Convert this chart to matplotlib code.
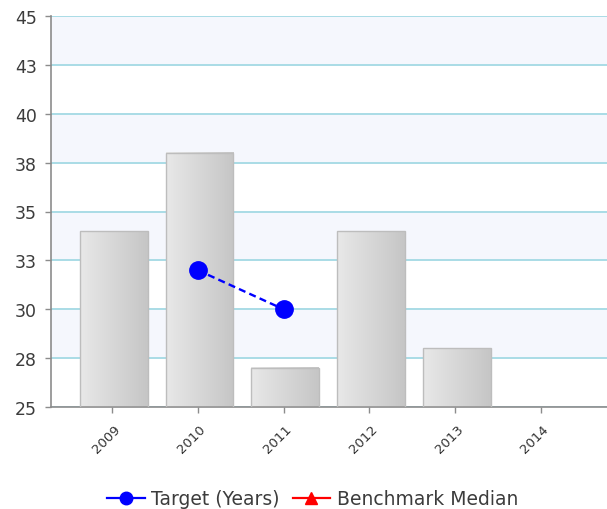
import numpy as np
import matplotlib
matplotlib.use("Agg")
import matplotlib.pyplot as plt
from matplotlib.lines import Line2D
from matplotlib.colors import LinearSegmentedColormap
import matplotlib.transforms as mtransforms

years = ["2009", "2010", "2011", "2012", "2013", "2014"]
bar_values = [34.0, 38.0, 27.0, 34.0, 28.0, np.nan]
target_values = [np.nan, 32.0, 30.0, np.nan, np.nan, np.nan]
benchmark_values = [np.nan, np.nan, np.nan, np.nan, np.nan, np.nan]
ytick_values = [25, 27.5, 30, 32.5, 35, 37.5, 40, 42.5, 45]
ytick_labels = ["25", "28", "30", "33", "35", "38", "40", "43", "45"]

plt.rcParams['font.family'] = ['DejaVu Sans']

fig = plt.figure(figsize=(6.07, 5.10), dpi=100)
ax = fig.add_axes([51/607, 102/510, 1 - 51/607, (408-17)/510])

ymin, ymax = 25, 45
x = np.arange(len(years))
xlim = (-0.71, 5.77)

# alternating bands
for i in range(len(ytick_values) - 1):
    lo, hi = ytick_values[i], ytick_values[i + 1]
    if i % 2 == 1:
        ax.axhspan(lo, hi, color="#F5F7FD", zorder=0, lw=0)

for yv in ytick_values:
    ax.axhline(yv, color="#A9DCE6", lw=1.4, zorder=1)

# gradient bars
width = 0.79
grad = np.linspace(0, 1, 64).reshape(1, -1)
cmap = LinearSegmentedColormap.from_list("g", ["#E8E8E8", "#C6C6C6"])
for xi, v in zip(x, bar_values):
    if np.isnan(v):
        continue
    ax.imshow(grad, extent=[xi - width/2 + 0.02, xi + width/2 + 0.02, ymin, v], aspect="auto",
              cmap=cmap, zorder=2, interpolation="bilinear")
    ax.bar(xi + 0.02, v - ymin, bottom=ymin, width=width, facecolor="none",
           edgecolor="#BDBDBD", lw=1.0, zorder=3)
ax.set_xlim(*xlim)
ax.set_ylim(ymin, ymax)

ax.plot(x, target_values, color="#0000FF", ls=(0, (3, 1.8)), lw=1.7,
        marker="o", ms=12.5, zorder=5)
ax.plot(x, benchmark_values, color="#FF0000", lw=1.6, marker="^", ms=10, zorder=5)

for s in ["top", "right"]:
    ax.spines[s].set_visible(False)
for s in ["left", "bottom"]:
    ax.spines[s].set_color("#8C8C8C")
    ax.spines[s].set_linewidth(1.2)

ax.set_yticks(ytick_values)
ax.set_yticklabels(ytick_labels, fontsize=12.5, color="#3C3C3C")
ax.set_xticks(x)
ax.set_xticklabels(years, rotation=45, fontsize=9.5, color="#333333", ha="center")
ax.tick_params(axis="both", color="#8C8C8C", length=4, width=1)
ax.tick_params(axis="y", pad=6)
ax.tick_params(axis="x", pad=7)
offset = mtransforms.ScaledTranslation(-6/100, 0, fig.dpi_scale_trans)
for lbl in ax.get_xticklabels():
    lbl.set_transform(lbl.get_transform() + offset)

handles = [
    Line2D([0], [0], color="#0000FF", lw=1.6, marker="o", ms=9),
    Line2D([0], [0], color="#FF0000", lw=1.6, marker="^", ms=9),
]
fig.legend(handles, ["Target (Years)", "Benchmark Median"], loc="center",
           bbox_to_anchor=(0.515, 10/510), ncol=2, frameon=False, fontsize=13.5,
           handlelength=2.0, handletextpad=0.35, columnspacing=0.7,
           labelcolor="#3C3C3C")

fig.savefig("out.png", dpi=100)
